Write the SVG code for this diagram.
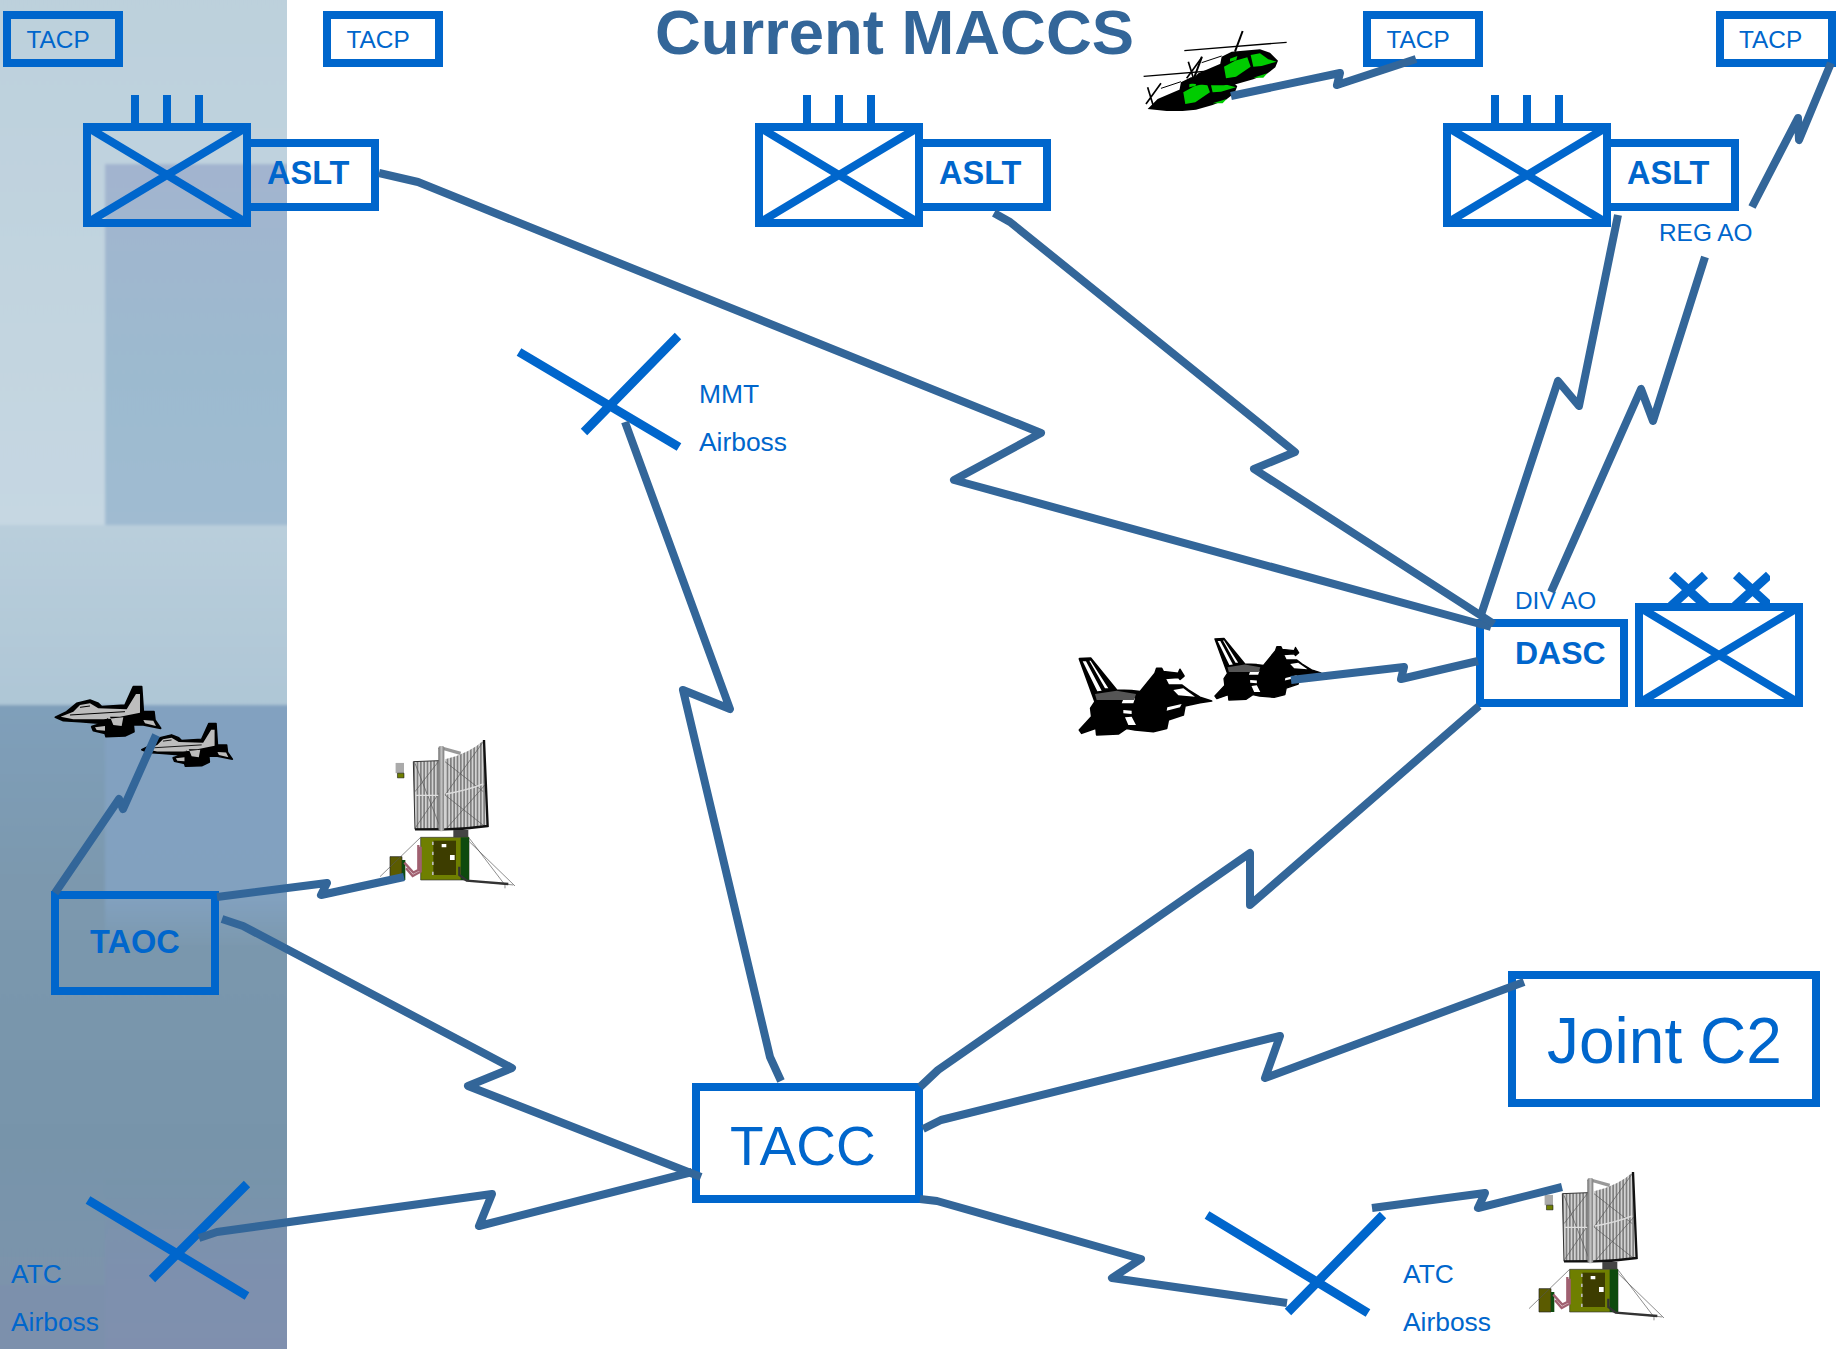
<svg xmlns="http://www.w3.org/2000/svg" xmlns:xlink="http://www.w3.org/1999/xlink" width="1838" height="1349" viewBox="0 0 1838 1349">
<style>
text{font-family:"Liberation Sans",Arial,sans-serif;fill:#0066cc}
.b{font-weight:700}
.box{fill:none;stroke:#0066cc;stroke-width:8}
.x{fill:none;stroke:#0066cc;stroke-width:8}
.xs{fill:none;stroke:#0066cc;stroke-width:9}
.t24{font-size:24.400px}.t26{font-size:26.400px}.t32{font-size:32.500px}
.c{fill:none;stroke:#336699;stroke-width:8;stroke-linejoin:round}
</style>
<defs>
<linearGradient id="g1" x1="0" y1="0" x2="0" y2="1"><stop offset="0" stop-color="#bcd0dc"/><stop offset="1" stop-color="#c6d7e2"/></linearGradient>
<linearGradient id="g2" x1="0" y1="0" x2="0" y2="1"><stop offset="0" stop-color="#a2b4cf"/><stop offset=".6" stop-color="#9cbacf"/><stop offset="1" stop-color="#a0bbd1"/></linearGradient>
<linearGradient id="g3" x1="0" y1="0" x2="0" y2="1"><stop offset="0" stop-color="#b9cedb"/><stop offset="1" stop-color="#aec6d6"/></linearGradient>
<linearGradient id="g4" x1="0" y1="0" x2="0" y2="1"><stop offset="0" stop-color="#7f9fba"/><stop offset=".3" stop-color="#7b98ae"/><stop offset=".75" stop-color="#7794aa"/><stop offset="1" stop-color="#7b93ab"/></linearGradient>
<linearGradient id="g5" x1="0" y1="0" x2="0" y2="1"><stop offset="0" stop-color="#82a1c0"/><stop offset=".8" stop-color="#82a1bf"/><stop offset="1" stop-color="#7b98ae"/></linearGradient>
<linearGradient id="g6" x1="0" y1="0" x2="0" y2="1"><stop offset="0" stop-color="#7794aa"/><stop offset=".5" stop-color="#7d90ae"/><stop offset="1" stop-color="#7f8fae"/></linearGradient>
<linearGradient id="pil" x1="0" y1="0" x2="1" y2="0"><stop offset="0" stop-color="#666"/><stop offset=".5" stop-color="#c4c4c4"/><stop offset="1" stop-color="#777"/></linearGradient>
<pattern id="st" width="10" height="10" patternUnits="userSpaceOnUse"><rect width="10" height="10" fill="#d2d2d2"/><rect width="5" height="10" fill="#808080"/></pattern>
<filter id="bl" x="-5%" y="-5%" width="110%" height="110%"><feGaussianBlur stdDeviation="1.500"/></filter>
<clipPath id="clipP"><rect x="0" y="0" width="287" height="1349"/></clipPath>
<clipPath id="xx"><rect x="1660" y="560" width="110" height="45"/></clipPath>
<g id="brig">
<rect class="box" x="87" y="127" width="160" height="96"/>
<path class="x" d="M87,127L247,223M247,127L87,223M135,95V127M167,95V127M199,95V127"/>
<rect class="box" x="247" y="143" width="128" height="64"/>
</g>
<g id="jetB">
<path fill="#000" stroke="#000" stroke-width="5" stroke-linejoin="round" d="M58,116L92,114L170,210L215,212L240,215L285,160L290,145L305,145L310,155L355,160L360,148L372,168L360,178L355,172L315,175L325,195L365,195L385,210L420,232L455,243L420,248L375,258L370,285L325,300L320,325L280,335L225,330L200,325L175,342L110,345L108,325L65,340L58,330L95,290L92,265L105,245Z"/>
<path fill="#fff" d="M68,124L78,124L125,212L112,214ZM88,122L92,122L145,205L135,205ZM190,238L225,235L220,250L185,250ZM190,270L215,272L215,282L190,280ZM195,292L215,290L228,315L205,315ZM322,262L365,252L360,262L320,272ZM340,210L370,205L405,230L355,226Z"/>
<path fill="#555" d="M105,222L170,212L228,222L222,240L110,240Z"/>
</g>
<g id="jetN">
<path fill="#000" stroke="#000" stroke-width="5" stroke-linejoin="round" d="M76,142L110,125L140,100L180,90L205,100L215,110L285,105L310,50L335,50L340,125L372,125L375,150L392,175L340,165L310,165L312,185L285,198L228,200L225,190L190,182L185,170L215,160L150,155L100,152Z"/>
<path fill="#bdbdbd" d="M92,140L130,125L150,105L180,100L205,115L290,118L318,72L330,72L330,128L270,140L240,140L250,165L275,168L280,142L220,148L130,148ZM340,150L370,152L378,168L345,160ZM195,172L225,168L225,182L200,180Z"/>
<path fill="none" stroke="#000" stroke-width="3" d="M120,135L285,125M150,112L180,108M232,145L245,165"/>
</g>
<g id="heli">
<path fill="none" stroke="#000" stroke-width="4" d="M193,122L500,97"/>
<path fill="none" stroke="#000" stroke-width="6" d="M345,125L368,63"/>
<path fill="none" stroke="#000" stroke-width="5" d="M205,155L222,210M245,143L200,205"/>
<path fill="#000" d="M300,165L305,140L335,125L420,118L450,128L474,152L466,172L440,192L400,208L350,222L310,226L262,226L205,220L235,190L305,160Z"/>
<path fill="none" stroke="#000" stroke-width="3" d="M245,158L305,138"/>
<path fill="#0c0" d="M312,170L345,152L382,142L392,170L348,200L318,205ZM392,135L420,130L445,148L470,155L425,168L400,170ZM400,203L442,190L430,203ZM330,146L352,138L349,150L330,155Z"/>
</g>
<g id="radar">
<path fill="url(#st)" stroke="#333" stroke-width="3" d="M130,125L208,122L216,325L135,328Z"/>
<path fill="url(#st)" d="M225,118Q300,100 342,60L352,318Q290,325 225,328Z"/>
<path fill="none" stroke="#555" stroke-width="2" d="M135,215L205,125M135,130L210,320M210,215L135,325M225,125L340,215M340,65L225,225M225,225L345,320M345,195L230,325"/>
<path fill="none" stroke="#ddd" stroke-width="4" d="M138,226L208,226M228,222Q290,212 340,192"/>
<path fill="none" stroke="#111" stroke-width="7" d="M342,60L353,318Q290,327 225,328L135,328"/>
<path fill="none" stroke="#999" stroke-width="10" stroke-linejoin="round" d="M215,84L272,100"/>
<rect x="205" y="78" width="18" height="256" rx="7" fill="url(#pil)"/>
<path fill="#444" d="M250,330H295V352H250Z"/>
<path fill="#6f7f00" stroke="#333" stroke-width="2" d="M152,352H297V480H152Z"/>
<path fill="#0e4a0e" d="M272,352H297V480H272Z"/>
<path fill="#3d3d00" d="M190,362H258V465H190Z"/>
<path fill="#fff" d="M215,372H229V382H215ZM240,405H254V420H240Z"/>
<path fill="#bbb" d="M186,365h5v10h-5ZM186,395h5v10h-5ZM186,425h5v10h-5ZM186,455h5v10h-5Z"/>
<path fill="#5b5b00" stroke="#222" stroke-width="2" d="M60,410H96V480H60Z"/>
<path fill="#0e4a0e" d="M96,420H106V480H96Z"/>
<path fill="none" stroke="#555" stroke-width="2" d="M152,352L30,470M298,355L405,495M298,365L435,498M280,480L430,495M405,490V505"/>
<path fill="none" stroke="#a06070" stroke-width="7" d="M103,428L130,458L145,450V375M108,445L128,468L152,455V380"/>
<path fill="none" stroke="#333" stroke-width="7" d="M268,440V465L290,482L415,492"/>
<g transform="translate(60,112) scale(.28)"><path fill="#aaa" d="M60,60H150V170H60Z"/><path fill="#6f7f00" stroke="#111" stroke-width="6" d="M80,170H150V220H80Z"/></g>
</g>
</defs>
<g id="background" clip-path="url(#clipP)"><g filter="url(#bl)">
<rect x="-10" y="-10" width="300" height="535" fill="url(#g1)"/>
<rect x="105" y="164" width="185" height="361" fill="url(#g2)"/>
<rect x="-10" y="525" width="300" height="180" fill="url(#g3)"/>
<rect x="-10" y="705" width="300" height="580" fill="url(#g4)"/>
<rect x="105" y="705" width="185" height="240" fill="url(#g5)"/>
<rect x="-10" y="1285" width="300" height="74" fill="#7c90ac"/>
<rect x="105" y="1180" width="185" height="179" fill="url(#g6)"/>
</g></g>
<text id="title" x="655" y="54" class="b" font-size="63.400" style="fill:#336699">Current MACCS</text>
<g id="tacp1"><rect class="box" x="7" y="15" width="112" height="48"/><text class="t24" x="26.500" y="48">TACP</text></g>
<g id="tacp2"><rect class="box" x="327" y="15" width="112" height="48"/><text class="t24" x="346.500" y="48">TACP</text></g>
<g id="tacp3"><rect class="box" x="1367" y="15" width="112" height="48"/><text class="t24" x="1386.500" y="48">TACP</text></g>
<g id="tacp4"><rect class="box" x="1720" y="15" width="112" height="48"/><text class="t24" x="1739" y="48">TACP</text></g>
<g id="aslt1"><use xlink:href="#brig" href="#brig"/><text class="b t32" x="267" y="184">ASLT</text></g>
<g id="aslt2"><use xlink:href="#brig" href="#brig" x="672"/><text class="b t32" x="939" y="184">ASLT</text></g>
<g id="aslt3"><use xlink:href="#brig" href="#brig" x="1360"/><text class="b t32" x="1627" y="184">ASLT</text></g>
<g id="mmt"><path class="xs" d="M519,352L679,447M678,336L584,432"/><text class="t26" x="699" y="403">MMT</text><text class="t26" x="699" y="451">Airboss</text></g>
<g id="regao"><text class="t24" x="1659" y="241">REG AO</text></g>
<g id="divao"><text class="t24" x="1515" y="609">DIV AO</text></g>
<g id="dasc"><rect class="box" x="1480" y="623" width="144" height="80"/><text class="b t32" x="1515" y="664" style="font-size:32px">DASC</text></g>
<g id="dascbrig"><rect class="box" x="1639" y="607" width="160" height="96"/><path class="x" d="M1639,607L1799,703M1799,607L1639,703"/><path class="xs" clip-path="url(#xx)" d="M1672,575L1706,606M1705,575L1671,606M1736,575L1770,606M1769,575L1735,606"/></g>
<g id="taoc"><rect class="box" x="55" y="895" width="160" height="96"/><text class="b t32" x="90" y="953">TAOC</text></g>
<g id="tacc"><rect class="box" x="696" y="1087" width="223" height="112"/><text font-size="55" x="730" y="1165">TACC</text></g>
<g id="jointc2"><rect class="box" x="1512" y="975" width="304" height="128"/><text font-size="64" x="1547" y="1063">Joint C2</text></g>
<g id="atc-left"><path class="xs" d="M88,1200L247,1296M247,1184L152,1279"/><text class="t26" x="11" y="1283">ATC</text><text class="t26" x="11" y="1331">Airboss</text></g>
<g id="atc-right"><path class="xs" d="M1207,1215L1368,1313M1383,1215L1288,1312"/><text class="t26" x="1403" y="1283">ATC</text><text class="t26" x="1403" y="1331">Airboss</text></g>
<g id="helicopters"><use xlink:href="#heli" href="#heli" transform="translate(1079.300,35.700) scale(.3333)"/><use xlink:href="#heli" href="#heli" transform="translate(1120,10) scale(.3333)"/></g>
<g id="fighters-right"><use xlink:href="#jetB" href="#jetB" transform="translate(1060,620) scale(.3333)"/><use xlink:href="#jetB" href="#jetB" transform="translate(1199.500,608) scale(.2667)"/></g>
<g id="fighters-left"><use xlink:href="#jetN" href="#jetN" transform="translate(30,670) scale(.3333)"/><use xlink:href="#jetN" href="#jetN" transform="translate(119.900,709) scale(.287)"/></g>
<g id="radar1"><use xlink:href="#radar" href="#radar" transform="translate(370,720) scale(.3333)"/></g>
<g id="radar2"><use xlink:href="#radar" href="#radar" transform="translate(1519,1152) scale(.3333)"/></g>
<g id="connectors">
<path class="c" d="M379,173L418,182L1041,433L954,480L1491,627"/>
<path class="c" d="M994,213L1010,222L1295,452L1254,469L1494,624"/>
<path class="c" d="M1618,215L1579,406L1558,381L1480,618"/>
<path class="c" d="M1831,63L1799,140L1798,118L1752,207"/>
<path class="c" d="M1705,257L1653,421L1641,389L1551,592"/>
<path class="c" d="M1231,96L1340,73L1337,85L1416,59"/>
<path class="c" d="M1291,680L1404,667L1401,679L1478,661"/>
<path class="c" d="M920,1087L938,1070L1250,853L1250,905L1479,706"/>
<path class="c" d="M923,1129L941,1120L1280,1036L1265,1078L1524,982"/>
<path class="c" d="M920,1199L937,1201L1141,1259L1112,1278L1287,1303"/>
<path class="c" d="M1372,1208L1485,1193L1478,1208L1562,1187"/>
<path class="c" d="M781,1081L770,1057L683,690L730,709L625,422"/>
<path class="c" d="M222,919L243,926L512,1068L468,1086L701,1177"/>
<path class="c" d="M199,1238L217,1232L492,1194L479,1226L692,1172"/>
<path class="c" d="M55,893L119,799L123,809L156,735"/>
<path class="c" d="M217,897L327,883L321,895L404,877"/>
</g>
</svg>
